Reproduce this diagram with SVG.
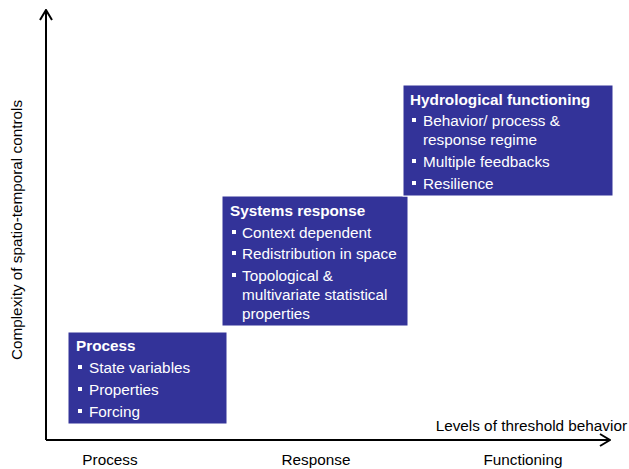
<svg xmlns="http://www.w3.org/2000/svg" width="629" height="469" viewBox="0 0 629 469">
<style>
text{font-family:"Liberation Sans",Arial,sans-serif;font-size:15.3px}
.box{fill:#333399;stroke:#ffffff;stroke-width:1}
.t{fill:#ffffff;font-weight:bold}
.i{fill:#ffffff}
.b{fill:#ffffff}
.ax{stroke:#000;stroke-width:2;fill:none}
.lbl{fill:#000}
</style>
<defs>
<marker id="arr" viewBox="0 0 12 14" refX="11" refY="7" markerWidth="12" markerHeight="14" markerUnits="userSpaceOnUse" orient="auto">
<path d="M1,1 L11,7 L1,13" fill="none" stroke="#000" stroke-width="2"/>
</marker>
</defs>
<rect width="629" height="469" fill="#ffffff"/>
<g id="connectors">
<path class="ax" d="M46,440 L46,10" marker-end="url(#arr)"/>
<path class="ax" d="M46,440 L610,440" marker-end="url(#arr)"/>
</g>
<g id="labels">
<text class="lbl" transform="translate(22,230) rotate(-90)" text-anchor="middle">Complexity of spatio-temporal controls</text>
<text class="lbl" x="627" y="431" text-anchor="end">Levels of threshold behavior</text>
<text class="lbl" x="110" y="465" text-anchor="middle">Process</text>
<text class="lbl" x="316" y="465" text-anchor="middle">Response</text>
<text class="lbl" x="523" y="465" text-anchor="middle">Functioning</text>
</g>
<g id="process">
<rect class="box" x="68" y="332" width="159" height="92"/>
<text class="t" x="76" y="351">Process</text>
<rect class="b" x="78" y="365" width="4" height="4"/>
<text class="i" x="89" y="373">State variables</text>
<rect class="b" x="78" y="387" width="4" height="4"/>
<text class="i" x="89" y="395">Properties</text>
<rect class="b" x="78" y="409" width="4" height="4"/>
<text class="i" x="89" y="417">Forcing</text>
</g>
<g id="systems-response">
<rect class="box" x="222" y="196" width="186" height="130"/>
<text class="t" x="230" y="216">Systems response</text>
<rect class="b" x="232" y="230" width="4" height="4"/>
<text class="i" x="242" y="238">Context dependent</text>
<rect class="b" x="232" y="251" width="4" height="4"/>
<text class="i" x="242" y="259">Redistribution in space</text>
<rect class="b" x="232" y="273" width="4" height="4"/>
<text class="i" x="242" y="281">Topological &amp;</text>
<text class="i" x="242" y="300">multivariate statistical</text>
<text class="i" x="242" y="319">properties</text>
</g>
<g id="hydrological-functioning">
<rect class="box" x="403" y="85" width="210" height="111"/>
<text class="t" x="410" y="105">Hydrological functioning</text>
<rect class="b" x="412" y="118" width="4" height="4"/>
<text class="i" x="423" y="126">Behavior/ process &amp;</text>
<text class="i" x="423" y="145">response regime</text>
<rect class="b" x="412" y="159" width="4" height="4"/>
<text class="i" x="423" y="167">Multiple feedbacks</text>
<rect class="b" x="412" y="181" width="4" height="4"/>
<text class="i" x="423" y="189">Resilience</text>
</g>
</svg>
